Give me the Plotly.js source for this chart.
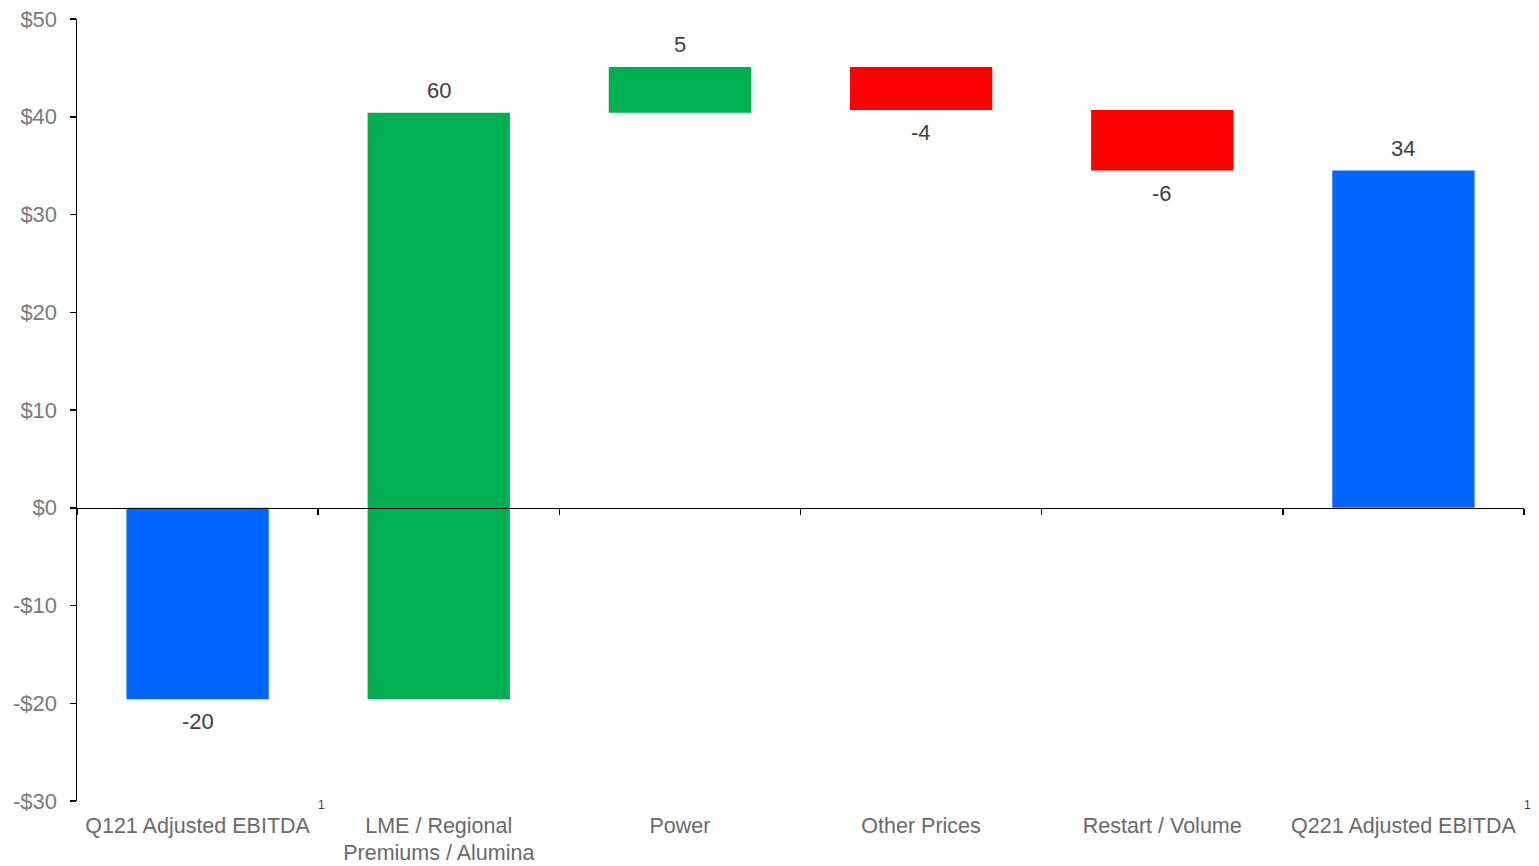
<!DOCTYPE html>
<html>
<head>
<meta charset="utf-8">
<script src="https://cdn.plot.ly/plotly-3.0.1.min.js"></script>
<style>html,body{margin:0;padding:0;background:#fff;}#chart{width:1539px;height:866px;}</style>
</head>
<body>
<div id="chart"></div>
<script>
// Data
var categories = ["Q121 Adjusted EBITDA", "LME / Regional<br>Premiums / Alumina", "Power", "Other Prices", "Restart / Volume", "Q221 Adjusted EBITDA"];
var measures = ["total", "relative", "relative", "relative", "relative", "total"];
var values = [-19.6, 60.0, 4.7, -4.4, -6.2, 34.5];
var valueLabels = ["-20", "60", "5", "-4", "-6", "34"];
var footnoteCats = ["Q121 Adjusted EBITDA", "Q221 Adjusted EBITDA"];
var yTickVals = [-30, -20, -10, 0, 10, 20, 30, 40, 50];
var yTickText = ["-$30", "-$20", "-$10", "$0", "$10", "$20", "$30", "$40", "$50"];

var colTotal = "#0066FF", colUp = "#00B050", colDown = "#FF0000";

// compute bases / heights
var bases = [], heights = [], colors = [], ends = [];
var running = 0;
for (var i = 0; i < values.length; i++) {
  if (measures[i] === "total") {
    bases.push(0); heights.push(values[i]); colors.push(colTotal);
    running = values[i];
    ends.push({top: Math.max(0, values[i]), bottom: Math.min(0, values[i]), neg: values[i] < 0});
  } else {
    bases.push(running); heights.push(values[i]);
    colors.push(values[i] >= 0 ? colUp : colDown);
    var nxt = running + values[i];
    ends.push({top: Math.max(running, nxt), bottom: Math.min(running, nxt), neg: values[i] < 0});
    running = nxt;
  }
}

var font = "Arial, 'Liberation Sans', sans-serif";
var labelGray = "#6a6a6a";

var bars = {
  type: "bar", x: categories, y: heights, base: bases,
  marker: {color: colors, line: {width: 0}},
  width: 0.59, hoverinfo: "skip", showlegend: false
};
var axisHelper = {
  type: "scatter", mode: "markers", x: categories, y: categories.map(function(){return 0;}),
  xaxis: "x2", yaxis: "y", marker: {opacity: 0}, hoverinfo: "skip", showlegend: false
};

var annotations = [];
for (var j = 0; j < categories.length; j++) {
  var e = ends[j];
  annotations.push({
    x: categories[j], xref: "x", yref: "y",
    y: e.neg ? e.bottom : e.top,
    yanchor: e.neg ? "top" : "bottom",
    yshift: e.neg ? -8 : 8,
    text: valueLabels[j], showarrow: false,
    font: {family: font, size: 22, color: "#404040"}
  });
}
footnoteCats.forEach(function(c) {
  annotations.push({
    x: c, xref: "x", xshift: 124, y: 0, yref: "paper", yanchor: "middle", yshift: -4,
    text: "1", showarrow: false, font: {family: font, size: 12, color: "#404040"}
  });
});

var yMin = -30, yMax = 50;
var layout = {
  width: 1539, height: 866,
  margin: {l: 77, r: 15, t: 19, b: 65},
  paper_bgcolor: "#fff", plot_bgcolor: "#fff",
  font: {family: font, size: 22, color: labelGray},
  showlegend: false,
  xaxis: {
    type: "category", categoryorder: "array", categoryarray: categories,
    range: [-0.5, categories.length - 0.5],
    showline: false, showgrid: false, zeroline: false, ticks: "",
    tickfont: {family: font, size: 21.5, color: labelGray},
    ticklabelstandoff: 9,
    fixedrange: true
  },
  xaxis2: {
    type: "category", categoryorder: "array", categoryarray: categories,
    overlaying: "x", anchor: "free",
    position: (0 - yMin) / (yMax - yMin),
    range: [-0.5, categories.length - 0.5],
    showline: true, linecolor: "#000", linewidth: 1.5,
    ticks: "outside", tickson: "boundaries", ticklen: 6, tickcolor: "#000", tickwidth: 1.5,
    showticklabels: false, showgrid: false, zeroline: false, fixedrange: true
  },
  yaxis: {
    range: [yMin, yMax], tickvals: yTickVals, ticktext: yTickText,
    showline: true, linecolor: "#000", linewidth: 1.5,
    ticks: "outside", ticklen: 6, tickcolor: "#000", tickwidth: 1.5,
    showgrid: false, zeroline: false,
    tickfont: {family: font, size: 22, color: "#7a7a7a"},
    ticklabelstandoff: 8,
    fixedrange: true
  },
  annotations: annotations
};

Plotly.newPlot("chart", [bars, axisHelper], layout, {displayModeBar: false, staticPlot: true});
</script>
</body>
</html>
